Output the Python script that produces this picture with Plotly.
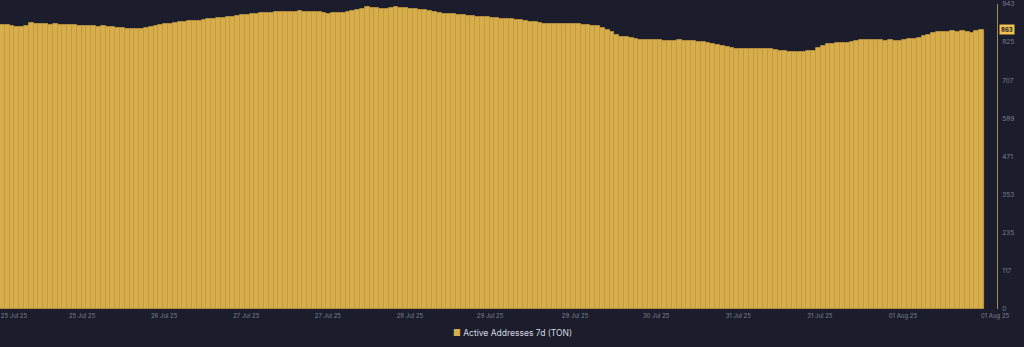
import plotly.graph_objects as go

# Active Addresses 7d (TON), one value per bar, oldest first
active_addresses = [
    878, 879, 875, 871, 872, 874, 883, 882, 881, 880,
    879, 880, 878, 877, 878, 877, 876, 876, 874, 875,
    873, 874, 872, 871, 870, 868, 867, 866, 865, 867,
    870, 873, 876, 878, 881, 882, 884, 886, 887, 889,
    890, 891, 893, 896, 897, 899, 901, 902, 903, 906,
    909, 910, 912, 913, 914, 914, 916, 917, 918, 918,
    917, 919, 920, 919, 919, 918, 919, 916, 913, 914,
    915, 916, 917, 920, 924, 928, 933, 931, 930, 929,
    928, 930, 933, 932, 930, 929, 928, 925, 923, 921,
    919, 916, 913, 912, 911, 909, 909, 907, 905, 904,
    904, 902, 900, 899, 898, 897, 896, 895, 893, 890,
    888, 887, 885, 882, 881, 881, 882, 881, 880, 881,
    880, 879, 878, 876, 874, 868, 862, 855, 848, 842,
    840, 837, 834, 833, 832, 833, 832, 831, 830, 830,
    830, 831, 829, 829, 828, 827, 825, 822, 819, 816,
    814, 811, 808, 805, 803, 804, 805, 804, 805, 804,
    803, 801, 799, 798, 796, 794, 794, 795, 797, 799,
    806, 812, 818, 820, 821, 822, 823, 826, 829, 831,
    832, 833, 831, 832, 830, 831, 830, 829, 832, 834,
    836, 838, 843, 848, 852, 855, 856, 857, 858, 857,
    858, 855, 852, 858, 863,
]
bar_index = list(range(len(active_addresses)))

# Date labels along the time axis and the bar index each one sits at
date_labels = [
    "25 Jul 25", "25 Jul 25", "26 Jul 25", "27 Jul 25", "27 Jul 25",
    "28 Jul 25", "29 Jul 25", "29 Jul 25", "30 Jul 25", "31 Jul 25",
    "31 Jul 25", "01 Aug 25", "01 Aug 25",
]
date_label_index = [2.4, 16.6, 33.7, 50.8, 67.8, 84.9, 101.6, 119.3,
                    136.2, 153.3, 170.3, 187.6, 206.8]

# Value axis: eight equal steps up to the maximum
y_max = 943
y_tick_values = [y_max * k / 8 for k in range(9)]
y_tick_labels = ["0", "117", "235", "353", "471", "589", "707", "825", "943"]

BG = "#1b1d2c"
GOLD = "#d8ae4c"
GOLD_EDGE = "#c39c40"
MUTED = "#7c8093"

fig = go.Figure()
fig.add_trace(go.Bar(
    x=bar_index,
    y=active_addresses,
    marker=dict(color=GOLD, line=dict(color=GOLD_EDGE, width=0.8)),
    showlegend=False,
    hoverinfo="skip",
))

last_value = active_addresses[-1]

fig.update_layout(
    width=1024,
    height=347,
    margin=dict(l=0, r=27, t=4, b=38),
    paper_bgcolor=BG,
    plot_bgcolor=BG,
    bargap=0,
    font=dict(family="Inter, Liberation Sans, sans-serif", color=MUTED),
    xaxis=dict(
        range=[-0.5, 207.2],
        tickvals=date_label_index,
        ticktext=date_labels,
        tickfont=dict(size=6, color=MUTED),
        ticklabeloverflow="allow",
        ticklabelstandoff=2,
        showgrid=False,
        zeroline=False,
        showline=False,
        ticks="",
        fixedrange=True,
    ),
    yaxis=dict(
        side="right",
        range=[0, y_max],
        tickvals=y_tick_values,
        ticktext=y_tick_labels,
        tickfont=dict(size=6.5, color=MUTED),
        showgrid=False,
        zeroline=False,
        showline=True,
        linecolor="#a08a55",
        linewidth=1,
        ticks="",
        ticklabelstandoff=3,
        fixedrange=True,
    ),
    annotations=[
        # latest value tag on the value axis
        dict(
            x=1, xref="paper", xanchor="left", xshift=2,
            y=last_value, yref="y", yanchor="middle",
            text=f"<b>{last_value}</b>",
            showarrow=False,
            font=dict(size=6, color="#1b1d2c"),
            bgcolor="#f2c14e",
            borderpad=1,
        ),
        # series key below the axis
        dict(
            x=0.514, xref="paper", xanchor="center",
            y=-0.079, yref="paper", yanchor="middle",
            text=f'<span style="color:{GOLD}">■</span> Active Addresses 7d (TON)',
            showarrow=False,
            font=dict(size=8.5, color="#d6d8e0"),
        ),
    ],
)

fig.write_html("out.html")
